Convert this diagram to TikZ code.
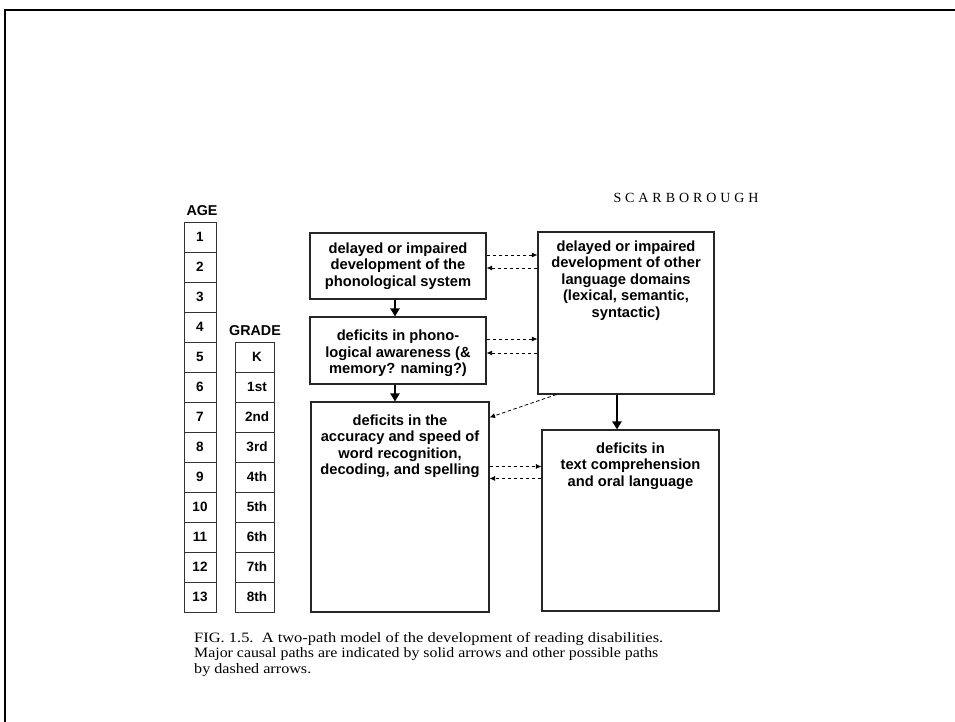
\documentclass[tikz,border=0pt]{standalone}
\usepackage{fontspec}
\setmainfont{Liberation Serif}
\setsansfont{Liberation Sans}
\newfontfamily\capfont[LetterSpace=28]{Liberation Serif}
\usetikzlibrary{arrows.meta,calc}
\tikzset{
  box/.style={draw=black!85, line width=1.1pt, rectangle, inner sep=0pt},
  btext/.style={font=\sffamily\bfseries\fontsize{14.7}{16.5}\selectfont, align=center, inner sep=0pt},
  cell/.style={draw=black!80, line width=0.9pt, minimum width=32pt, minimum height=30pt, inner sep=0pt,
    font=\sffamily\bfseries\fontsize{13.5}{15}\selectfont},
  gcell/.style={cell, minimum width=39pt},
  head/.style={font=\sffamily\bfseries\fontsize{14.3}{15}\selectfont, inner sep=0pt},
  thickarr/.style={line width=2.8pt, -{Triangle[length=8pt,width=9pt]}},
  dasharr/.style={line width=0.8pt, dash pattern=on 3.5pt off 2.5pt, -{Latex[length=5.5pt,width=5pt]}},
}
\begin{document}
\begin{tikzpicture}[x=1pt,y=-1pt]
\useasboundingbox (0,0) rectangle (955,722);
\fill[white] (0,0) rectangle (955,722);
% outer frame
\draw[line width=2pt] (4.5,730) -- (4.5,10.5) -- (965,10.5);

% AGE column
\node[head] (agehead) at (202,211) {AGE};
\foreach \i in {1,...,13}{
  \node[cell] (age\i) at (200,{222+30*(\i-1)+15}) {\i};
}
% GRADE column
\node[head] (gradehead) at (255,331) {GRADE};
\foreach \g [count=\k] in {K,1st,2nd,3rd,4th,5th,6th,7th,8th}{
  \node[gcell] (gr\k) at (254.5,{342+30*(\k-1)+15}) {\hspace*{5pt}\g};
}

% boxes
\node[box, minimum width=176pt, minimum height=66pt] (A) at (398,266) {};
\node[btext] (At) at (A.center) {delayed or impaired\\development of the\\phonological system};
\node[box, minimum width=176pt, minimum height=67pt] (B) at (398,350.5) {};
\node[btext] (Bt) at ([yshift=-3pt]B.center) {deficits in phono-\\logical awareness (\&\\memory? naming?)};
\node[box, minimum width=178pt, minimum height=210pt] (C) at (400,507) {};
\node[btext, anchor=north] (Ct) at ([yshift=-13pt]C.north) {deficits in the\\accuracy and speed of\\word recognition,\\decoding, and spelling};
\node[box, minimum width=176pt, minimum height=162pt] (D) at (626,313) {};
\node[btext, anchor=north] (Dt) at ([yshift=-9pt]D.north) {delayed or impaired\\development of other\\language domains\\(lexical, semantic,\\syntactic)};
\node[box, minimum width=177pt, minimum height=181pt] (E) at (630.5,520.5) {};
\node[btext, anchor=north] (Et) at ([yshift=-13pt]E.north) {deficits in\\text comprehension\\and oral language};

% solid arrows
\draw[thickarr] ([xshift=-3pt]A.south) -- ([xshift=-3pt]A.south |- B.north);
\draw[thickarr] ([xshift=-3pt]B.south) -- ([xshift=-3pt]B.south |- C.north);
\draw[thickarr] ([xshift=-9pt]D.south) -- ([xshift=-9pt]D.south |- E.north);

% dashed arrows
\draw[dasharr] ([yshift=11pt]A.east) -- ([yshift=11pt]A.east -| D.west);
\draw[dasharr] ([yshift=-2pt]A.east -| D.west) -- ([yshift=-2pt]A.east);
\draw[dasharr] ([yshift=11.5pt]B.east) -- ([yshift=11.5pt]B.east -| D.west);
\draw[dasharr] ([yshift=-2.5pt]B.east -| D.west) -- ([yshift=-2.5pt]B.east);
\draw[dasharr] ([xshift=19pt]D.south west) -- ([yshift=-16pt]C.north east);
\draw[dasharr] ([yshift=-65pt]C.north east) -- ([yshift=-65pt]C.north east -| E.west);
\draw[dasharr] ([yshift=-77pt]C.north east -| E.west) -- ([yshift=-77pt]C.north east);

% running head
\node[font=\capfont\fontsize{14}{15}\selectfont, inner sep=0pt] (runhead) at (686,198) {SCARBOROUGH};

% caption
\node[anchor=north west, align=left, inner sep=0pt, font=\rmfamily\fontsize{14.3}{15.5}\selectfont] (caption) at (194,632)
 {\scalebox{1.15}[1]{FIG. 1.5.\ \ A two-path model of the development of reading disabilities.}\\
  \scalebox{1.11}[1]{Major causal paths are indicated by solid arrows and other possible paths}\\
  \scalebox{1.13}[1]{by dashed arrows.}};
\end{tikzpicture}
\end{document}
